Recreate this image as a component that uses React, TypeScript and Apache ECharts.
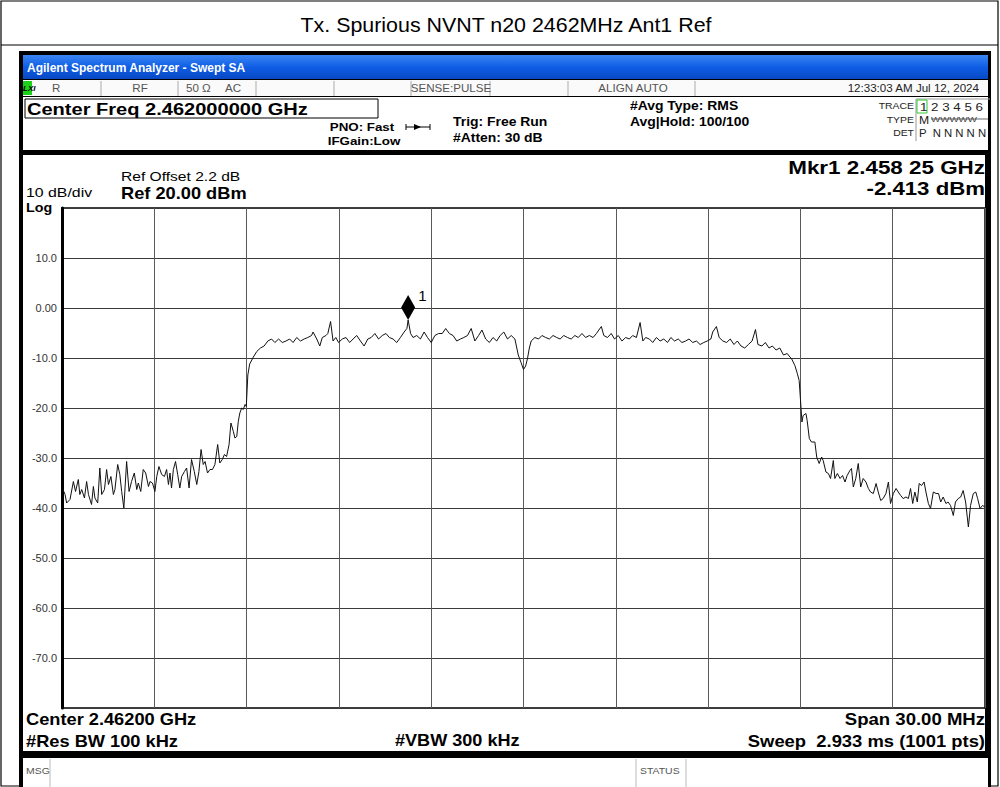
import React, { useEffect, useRef } from "react";
import * as echarts from "echarts";

// ---- data (frequency offset from start 2447 MHz, level in dBm) ----
const startMHz = 2447;
const spanMHz = 30;
const yTicks = [20, 10, 0, -10, -20, -30, -40, -50, -60, -70, -80];

const lowerSkirt: [number, number][] = [
  [0.03, -36.3], [0.10, -37.3], [0.15, -39.0], [0.26, -38.3], [0.37, -34.7], [0.44, -36.7],
  [0.53, -34.3], [0.58, -37.3], [0.64, -36.3], [0.73, -38.0], [0.80, -34.7], [0.86, -37.3],
  [0.96, -39.3], [1.02, -35.7], [1.07, -38.0], [1.16, -39.0], [1.23, -32.0], [1.29, -37.3],
  [1.38, -36.3], [1.45, -32.3], [1.51, -35.3], [1.59, -33.7], [1.67, -37.3], [1.72, -36.3],
  [1.81, -31.3], [1.88, -33.3], [1.94, -36.7], [2.01, -40.0], [2.10, -30.7], [2.18, -36.7],
  [2.26, -34.7], [2.35, -33.0], [2.43, -36.3], [2.48, -35.0], [2.56, -36.7], [2.64, -32.3],
  [2.72, -33.0], [2.81, -35.7], [2.86, -34.7], [2.94, -35.0], [3.02, -36.7], [3.08, -33.7],
  [3.15, -31.7], [3.24, -33.3], [3.33, -33.7], [3.40, -32.3], [3.46, -35.3], [3.51, -33.0],
  [3.56, -36.0], [3.62, -32.3], [3.69, -30.7], [3.76, -33.3], [3.83, -36.0], [3.89, -33.7],
  [3.98, -32.7], [4.05, -32.0], [4.13, -36.0], [4.21, -30.3], [4.30, -32.7], [4.38, -35.3],
  [4.45, -32.7], [4.52, -28.3], [4.59, -31.3], [4.65, -30.7], [4.73, -33.0], [4.81, -32.3],
  [4.89, -32.3], [4.97, -31.3], [5.06, -27.3], [5.13, -31.0], [5.21, -30.3], [5.28, -29.3],
  [5.35, -29.7], [5.43, -27.3], [5.49, -23.0], [5.57, -24.7], [5.62, -26.0], [5.68, -25.7],
  [5.73, -22.7], [5.78, -21.0], [5.84, -20.0], [5.89, -20.3], [5.95, -19.3], [5.99, -19.7],
];

const channel: [number, number][] = [
  [6.04, -13.4], [6.10, -11.2], [6.22, -9.8], [6.33, -8.7], [6.45, -8.0], [6.57, -7.6],
  [6.69, -6.6], [6.81, -6.2], [6.92, -6.9], [7.04, -6.2], [7.16, -6.9], [7.28, -6.6],
  [7.40, -6.2], [7.51, -6.9], [7.63, -5.9], [7.75, -6.6], [7.87, -6.2], [7.99, -5.9],
  [8.11, -5.5], [8.16, -4.8], [8.28, -6.2], [8.38, -7.6], [8.46, -5.9], [8.58, -5.5],
  [8.64, -5.1], [8.73, -2.7], [8.81, -6.6], [8.90, -5.9], [8.99, -6.9], [9.11, -6.2],
  [9.23, -5.9], [9.35, -6.9], [9.46, -6.2], [9.58, -5.5], [9.70, -6.6], [9.82, -7.6],
  [9.94, -6.2], [10.05, -5.9], [10.17, -5.1], [10.29, -6.2], [10.41, -5.5], [10.53, -5.1],
  [10.64, -5.9], [10.76, -6.2], [10.88, -6.9], [11.00, -5.9], [11.12, -4.8], [11.21, -4.1],
  [11.25, -2.4], [11.33, -5.1], [11.41, -5.9], [11.53, -5.5], [11.65, -6.2], [11.77, -4.8],
  [11.88, -5.9], [12.00, -6.9], [12.12, -5.5], [12.24, -5.1], [12.36, -5.1], [12.47, -4.1],
  [12.59, -5.1], [12.71, -5.5], [12.83, -6.6], [12.95, -6.2], [13.06, -5.9], [13.18, -5.5],
  [13.30, -4.1], [13.42, -6.6], [13.54, -5.5], [13.65, -4.4], [13.77, -6.2], [13.89, -6.9],
  [14.01, -5.9], [14.13, -6.6], [14.24, -5.5], [14.36, -4.8], [14.48, -6.2], [14.60, -5.5],
  [14.72, -6.2], [14.83, -9.4], [14.92, -10.9], [15.00, -12.3], [15.07, -11.6], [15.13, -10.1],
  [15.19, -8.0], [15.25, -6.6], [15.37, -5.9], [15.49, -6.2], [15.60, -5.5], [15.72, -5.9],
  [15.84, -6.2], [15.96, -5.5], [16.08, -5.9], [16.19, -6.2], [16.31, -5.5], [16.43, -5.9],
  [16.55, -6.2], [16.67, -5.5], [16.78, -5.9], [16.90, -5.1], [17.02, -5.9], [17.14, -5.5],
  [17.26, -5.9], [17.37, -5.1], [17.53, -3.7], [17.61, -5.5], [17.73, -5.9], [17.85, -5.1],
  [17.96, -6.2], [18.08, -5.5], [18.20, -6.6], [18.32, -5.9], [18.44, -6.2], [18.55, -5.5],
  [18.67, -5.9], [18.79, -2.9], [18.88, -6.6], [18.97, -5.9], [19.09, -6.2], [19.20, -6.9],
  [19.32, -5.9], [19.44, -6.6], [19.56, -6.2], [19.68, -6.9], [19.79, -5.9], [19.91, -6.6],
  [20.03, -6.2], [20.15, -6.9], [20.27, -6.6], [20.38, -6.2], [20.50, -6.9], [20.62, -6.6],
  [20.74, -7.3], [20.86, -6.9], [20.97, -6.6], [21.09, -6.2], [21.15, -4.8], [21.27, -3.7],
  [21.36, -5.9], [21.48, -6.6], [21.60, -6.9], [21.72, -6.2], [21.84, -7.3], [21.95, -6.6],
  [22.07, -7.6], [22.19, -8.0], [22.31, -7.3], [22.43, -6.6], [22.54, -4.3], [22.62, -7.3],
  [22.75, -7.6], [22.86, -6.9], [22.98, -8.0], [23.09, -7.6], [23.21, -8.4], [23.33, -8.0],
  [23.45, -9.4], [23.57, -9.1],
];

const upperSkirt: [number, number][] = [
  [23.66, -9.8], [23.71, -10.1], [23.82, -11.5], [23.90, -13.1], [23.96, -14.5], [24.00, -18.1],
  [24.05, -22.8], [24.09, -21.5], [24.18, -21.1], [24.22, -22.5], [24.29, -26.1], [24.36, -26.8],
  [24.47, -26.8], [24.53, -29.8], [24.61, -31.1], [24.69, -29.8], [24.74, -30.5], [24.83, -32.8],
  [24.91, -33.1], [24.98, -34.1], [25.07, -30.5], [25.12, -34.1], [25.20, -33.1], [25.29, -34.1],
  [25.37, -33.5], [25.45, -34.8], [25.52, -33.5], [25.61, -32.5], [25.66, -32.1], [25.72, -35.8],
  [25.80, -34.1], [25.88, -31.1], [25.96, -35.8], [26.04, -34.1], [26.13, -34.8], [26.21, -36.1],
  [26.28, -36.8], [26.37, -37.1], [26.46, -35.1], [26.53, -36.8], [26.61, -38.5], [26.69, -38.1],
  [26.78, -37.1], [26.86, -34.8], [26.93, -39.1], [27.02, -37.1], [27.11, -36.1], [27.18, -36.8],
  [27.26, -37.5], [27.34, -38.1], [27.43, -37.8], [27.51, -38.1], [27.58, -36.1], [27.65, -39.1],
  [27.72, -36.8], [27.80, -38.8], [27.86, -35.1], [27.94, -35.5], [28.02, -34.8], [28.08, -36.8],
  [28.16, -39.1], [28.23, -40.1], [28.32, -36.8], [28.41, -37.1], [28.49, -37.1], [28.56, -38.8],
  [28.64, -37.8], [28.73, -39.1], [28.80, -38.8], [28.88, -39.5], [28.97, -41.5], [29.04, -38.8],
  [29.13, -38.1], [29.21, -37.8], [29.29, -36.5], [29.37, -38.8], [29.46, -43.8], [29.53, -39.5],
  [29.62, -37.1], [29.70, -36.8], [29.76, -38.1], [29.84, -40.1], [29.92, -39.5], [30.00, -39.8],
];

const markerFreqMHz = 11.25; // 2.45825 GHz
const markerLevel = -2.413;

const FONT = "'Liberation Sans', Arial, sans-serif";
const SX = 1.16; // analyzer screenshot text is horizontally stretched

function txt(text: string, x: number, y: number, size: number, opts: any = {}) {
  return {
    type: "text",
    z: 100,
    silent: true,
    x,
    y,
    scaleX: opts.sx ?? SX,
    style: {
      text,
      x: 0,
      y: 0,
      fill: opts.fill || "#000",
      font: `${opts.italic ? "italic " : ""}${opts.bold ? "bold " : ""}${size}px ${opts.family || FONT}`,
      align: opts.align || "left",
      verticalAlign: "middle",
      textAlign: opts.align || "left",
      textVerticalAlign: "middle",
    },
  };
}
function rect(x: number, y: number, w: number, h: number, fill: any, stroke?: string, lw = 1, z = -10) {
  return {
    type: "rect",
    z,
    silent: true,
    shape: { x, y, width: w, height: h },
    style: { fill: fill || "none", stroke: stroke || "none", lineWidth: lw },
  };
}
function line(x1: number, y1: number, x2: number, y2: number, stroke: string, lw = 1, z = -5) {
  return {
    type: "line",
    z,
    silent: true,
    shape: { x1, y1, x2, y2 },
    style: { stroke, lineWidth: lw },
  };
}

export default function App() {
  const ref = useRef<HTMLDivElement>(null);
  useEffect(() => {
    if (!ref.current) return;
    const chart = echarts.init(ref.current, null, { renderer: "svg" });
    const traceData = [...lowerSkirt, ...channel, ...upperSkirt];

    const statusGray = "#555";
    const graphic: any[] = [
      // page frame
      rect(1, 1, 997, 785, "none", "#000", 1.2, -20),
      line(1, 45, 998, 45, "#000", 1.2, -20),
      txt("Tx. Spurious NVNT n20 2462MHz Ant1 Ref", 506, 25, 20, { align: "center", sx: 1.07 }),
      // analyzer window
      rect(19, 51, 972, 736, "#000", undefined, 1, -15),
      rect(23, 55, 965, 24, new echarts.graphic.LinearGradient(0, 0, 0, 1, [
        { offset: 0, color: "#3b86f2" },
        { offset: 0.5, color: "#0f5ee6" },
        { offset: 1, color: "#0848c4" },
      ]), undefined, 1, -12),
      txt("Agilent Spectrum Analyzer - Swept SA", 27, 68, 12, { bold: true, fill: "#fff", sx: 1.0 }),
      rect(23, 80, 965, 16, "#fafafa", undefined, 1, -12),
      rect(23, 97, 965, 53, "#fff", undefined, 1, -12),
      rect(23, 155, 962, 596, "#fff", undefined, 1, -12),
      rect(23, 758, 965, 29, "#fff", undefined, 1, -12),
      // status row
      rect(23, 81, 9, 14, "#19d219", undefined, 1, -8),
      txt("LXI", 23, 88, 8, { bold: true, italic: true, sx: 1 }),
      txt("R", 52, 88, 10, { fill: statusGray }),
      txt("RF", 140, 88, 10, { fill: statusGray, align: "center" }),
      txt("50 Ω", 186, 88, 10, { fill: statusGray }),
      txt("AC", 233, 88, 10, { fill: statusGray, align: "center" }),
      txt("SENSE:PULSE", 451, 88, 10, { fill: statusGray, align: "center" }),
      txt("ALIGN AUTO", 633, 88, 10, { fill: statusGray, align: "center" }),
      txt("12:33:03 AM Jul 12, 2024", 979, 88, 10, { fill: "#222", align: "right" }),
      ...[101, 178, 256, 334, 411, 490, 568, 695].map((x) => line(x, 81, x, 96, "#aaa", 1, -6)),
      // info area
      rect(25, 99, 353, 19, "none", "#000", 1, -6),
      txt("Center Freq 2.462000000 GHz", 27, 109, 17, { bold: true, sx: 1.18 }),
      txt("PNO: Fast", 362, 127, 11.5, { bold: true, align: "center" }),
      txt("IFGain:Low", 364, 141, 11.5, { bold: true, align: "center" }),
      line(406, 127, 430, 127, "#000", 1, -6),
      line(406, 124, 406, 130, "#000", 1, -6),
      line(430, 124, 430, 130, "#000", 1, -6),
      { type: "polygon", z: -6, silent: true, shape: { points: [[414, 124], [421, 127], [414, 130]] }, style: { fill: "#000" } },
      txt("Trig: Free Run", 453, 122, 12, { bold: true }),
      txt("#Atten: 30 dB", 453, 138, 12, { bold: true }),
      txt("#Avg Type: RMS", 630, 106, 12, { bold: true }),
      txt("Avg|Hold: 100/100", 630, 122, 12, { bold: true }),
      // trace table
      line(916, 99, 916, 141, "#999", 1, -6),
      line(916, 99, 990, 99, "#999", 1, -6),
      rect(917, 100, 10, 13, "none", "#3c3", 1, -6),
      txt("TRACE", 914, 106, 9, { align: "right", fill: "#222" }),
      txt("TYPE", 914, 120, 9, { align: "right", fill: "#222" }),
      txt("DET", 914, 133, 9, { align: "right", fill: "#222" }),
      txt("1 2 3 4 5 6", 920, 107, 11.5, { fill: "#222" }),
      txt("M", 919, 120, 10.5, { fill: "#222" }),
      txt("WWWWW", 931, 119, 7.5, { fill: "#444", sx: 1.3 }),
      line(931, 119, 988, 119, "#444", 0.8, 101),
      txt("P  N N N N N", 919, 133, 10.5, { fill: "#222", sx: 1.08 }),
      // plot annotations
      txt("Ref Offset 2.2 dB", 121, 176, 13, { sx: 1.2 }),
      txt("10 dB/div", 26, 193, 13, { sx: 1.22 }),
      txt("Ref 20.00 dBm", 121, 193, 16, { bold: true, sx: 1.14 }),
      txt("Log", 26, 208, 13, { bold: true, sx: 1.1 }),
      txt("Mkr1 2.458 25 GHz", 985, 167, 19, { bold: true, align: "right", sx: 1.18 }),
      txt("-2.413 dBm", 985, 188, 19, { bold: true, align: "right", sx: 1.17 }),
      txt("Center 2.46200 GHz", 26, 719, 16, { bold: true, sx: 1.14 }),
      txt("#Res BW 100 kHz", 26, 741, 16, { bold: true, sx: 1.14 }),
      txt("#VBW 300 kHz", 395, 741, 16, { bold: true, sx: 1.13 }),
      txt("Span 30.00 MHz", 985, 719, 16, { bold: true, align: "right", sx: 1.16 }),
      txt("Sweep  2.933 ms (1001 pts)", 985, 741, 16, { bold: true, align: "right", sx: 1.15 }),
      // message row
      txt("MSG", 26, 771, 9, { fill: statusGray }),
      line(50, 759, 50, 787, "#bbb", 1, -6),
      line(636, 759, 636, 787, "#bbb", 1, -6),
      line(686, 759, 686, 787, "#bbb", 1, -6),
      txt("STATUS", 640, 771, 9, { fill: statusGray }),
    ];

    chart.setOption({
      animation: false,
      backgroundColor: "#fff",
      grid: { left: 62, top: 208, width: 923, height: 500, show: true, borderColor: "#000", borderWidth: 1.5, z: 1 },
      xAxis: {
        type: "value",
        min: 0,
        max: spanMHz,
        interval: 3,
        z: 2,
        axisLabel: { show: false },
        axisTick: { show: false },
        axisLine: { show: false },
        splitLine: { show: true, lineStyle: { color: "#5a5a5a", width: 1 } },
      },
      yAxis: {
        type: "value",
        min: yTicks[yTicks.length - 1],
        max: yTicks[0],
        interval: 10,
        z: 2,
        axisLine: { show: true, lineStyle: { color: "#000", width: 3 } },
        axisTick: { show: false },
        axisLabel: {
          color: "#333",
          fontSize: 11,
          fontFamily: FONT,
          margin: 5,
          formatter: (v: number) => (v === yTicks[0] || v === yTicks[yTicks.length - 1] ? "" : v === 0 ? "0.00" : v.toFixed(1)),
        },
        splitLine: { show: true, lineStyle: { color: "#3a3a3a", width: 1 } },
      },
      series: [
        {
          type: "line",
          name: `Trace 1 (${startMHz}–${startMHz + spanMHz} MHz)`,
          data: traceData,
          showSymbol: false,
          z: 5,
          lineStyle: { color: "#111", width: 1 },
          markPoint: {
            silent: true,
            data: [
              {
                coord: [markerFreqMHz, markerLevel],
                symbol: "diamond",
                symbolSize: [14, 25],
                symbolOffset: [0, "-50%"],
                itemStyle: { color: "#000" },
                label: { show: true, formatter: "1", position: [17, -7], color: "#000", fontSize: 15, fontFamily: FONT },
              },
            ],
          },
        },
      ],
      graphic,
    });
    return () => chart.dispose();
  }, []);
  return <div ref={ref} style={{ position: "absolute", left: 0, top: 0, width: 1000, height: 787 }} />;
}
